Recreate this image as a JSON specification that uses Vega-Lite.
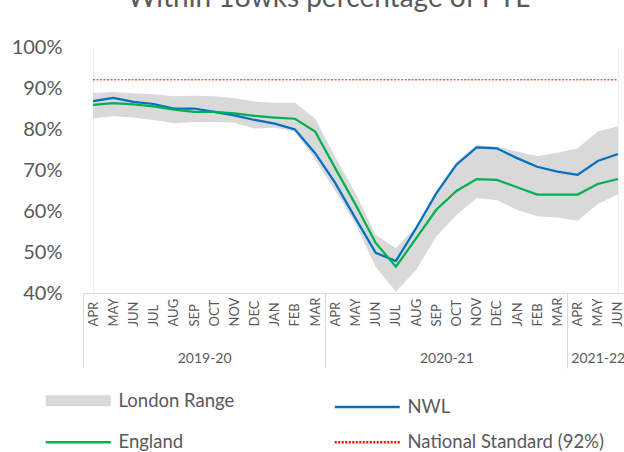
{
  "$schema": "https://vega.github.io/schema/vega-lite/v6.json",
  "width": 541,
  "height": 246,
  "autosize": {"type": "none"},
  "padding": {"left": 83, "top": 47, "right": 0, "bottom": 159},
  "background": "white",
  "config": {"font": "Lato", "view": {"stroke": null}},
  "title": {
    "text": "Within 18wks percentage of PTL",
    "frame": "group",
    "anchor": "middle",
    "offset": 12,
    "dy": 10,
    "baseline": "alphabetic",
    "dx": -25,
    "fontSize": 28,
    "fontWeight": "normal",
    "color": "#595959"
  },
  "datasets": {
    "months": [
      {"i": 0, "NWL": 0.868, "England": 0.859, "lo": 0.826, "hi": 0.888, "std": 0.92},
      {"i": 1, "NWL": 0.876, "England": 0.863, "lo": 0.831, "hi": 0.890, "std": 0.92},
      {"i": 2, "NWL": 0.866, "England": 0.860, "lo": 0.828, "hi": 0.887, "std": 0.92},
      {"i": 3, "NWL": 0.861, "England": 0.855, "lo": 0.822, "hi": 0.885, "std": 0.92},
      {"i": 4, "NWL": 0.850, "England": 0.847, "lo": 0.814, "hi": 0.880, "std": 0.92},
      {"i": 5, "NWL": 0.850, "England": 0.842, "lo": 0.817, "hi": 0.881, "std": 0.92},
      {"i": 6, "NWL": 0.842, "England": 0.842, "lo": 0.817, "hi": 0.880, "std": 0.92},
      {"i": 7, "NWL": 0.833, "England": 0.838, "lo": 0.815, "hi": 0.875, "std": 0.92},
      {"i": 8, "NWL": 0.822, "England": 0.832, "lo": 0.801, "hi": 0.867, "std": 0.92},
      {"i": 9, "NWL": 0.813, "England": 0.828, "lo": 0.803, "hi": 0.864, "std": 0.92},
      {"i": 10, "NWL": 0.799, "England": 0.825, "lo": 0.794, "hi": 0.864, "std": 0.92},
      {"i": 11, "NWL": 0.741, "England": 0.794, "lo": 0.726, "hi": 0.825, "std": 0.92},
      {"i": 12, "NWL": 0.668, "England": 0.704, "lo": 0.649, "hi": 0.731, "std": 0.92},
      {"i": 13, "NWL": 0.582, "England": 0.616, "lo": 0.568, "hi": 0.644, "std": 0.92},
      {"i": 14, "NWL": 0.498, "England": 0.522, "lo": 0.464, "hi": 0.542, "std": 0.92},
      {"i": 15, "NWL": 0.478, "England": 0.464, "lo": 0.403, "hi": 0.509, "std": 0.92},
      {"i": 16, "NWL": 0.558, "England": 0.533, "lo": 0.456, "hi": 0.562, "std": 0.92},
      {"i": 17, "NWL": 0.643, "England": 0.603, "lo": 0.538, "hi": 0.649, "std": 0.92},
      {"i": 18, "NWL": 0.713, "England": 0.649, "lo": 0.590, "hi": 0.721, "std": 0.92},
      {"i": 19, "NWL": 0.755, "England": 0.678, "lo": 0.631, "hi": 0.761, "std": 0.92},
      {"i": 20, "NWL": 0.753, "England": 0.676, "lo": 0.627, "hi": 0.757, "std": 0.92},
      {"i": 21, "NWL": 0.729, "England": 0.658, "lo": 0.603, "hi": 0.745, "std": 0.92},
      {"i": 22, "NWL": 0.708, "England": 0.640, "lo": 0.587, "hi": 0.734, "std": 0.92},
      {"i": 23, "NWL": 0.696, "England": 0.640, "lo": 0.584, "hi": 0.742, "std": 0.92},
      {"i": 24, "NWL": 0.688, "England": 0.640, "lo": 0.576, "hi": 0.753, "std": 0.92},
      {"i": 25, "NWL": 0.722, "England": 0.666, "lo": 0.617, "hi": 0.794, "std": 0.92},
      {"i": 26, "NWL": 0.739, "England": 0.678, "lo": 0.641, "hi": 0.807, "std": 0.92}
    ]
  },
  "resolve": {"axis": {"x": "independent"}},
  "layer": [
    {
      "data": {"name": "months"},
      "mark": {"type": "area", "opacity": 1},
      "encoding": {
        "x": {
          "field": "i", "type": "quantitative",
          "scale": {"domain": [-0.5, 26.3], "nice": false, "zero": false},
          "axis": {
            "orient": "bottom", "values": [5.5, 17.5, 25],
            "labelExpr": "datum.value < 10 ? '2019-20' : (datum.value < 20 ? '2020-21' : '2021-22')",
            "domain": false, "ticks": false, "grid": false, "title": null,
            "labelPadding": 58, "labelFontSize": 14, "labelColor": "#595959",
            "labelAlign": "center", "labelBaseline": "top", "labelFlush": false, "labelOverlap": false
          }
        },
        "y": {
          "field": "lo", "type": "quantitative",
          "scale": {"domain": [0.4, 1.0], "nice": false, "zero": false},
          "axis": {
            "values": [0.4, 0.5, 0.6, 0.7, 0.8, 0.9, 1.0], "format": ".0%",
            "domain": false, "ticks": false, "grid": false, "title": null,
            "labelPadding": 21, "labelFontSize": 20, "labelColor": "#595959"
          }
        },
        "y2": {"field": "hi"},
        "color": {
          "datum": "London Range", "type": "nominal",
          "scale": {
            "domain": ["London Range", "NWL", "England", "National Standard (92%)"],
            "range": ["#D9D9D9", "#0070C0", "#00B050", "#FF0000"]
          },
          "legend": {
            "title": null, "orient": "none", "legendX": -36, "legendY": 344,
            "direction": "horizontal", "columns": 2, "gridAlign": "each",
            "symbolType": "stroke", "symbolSize": 4225,
            "symbolOpacity": 1, "labelLimit": 400,
            "symbolOffset": 22,
            "labelFontSize": 18.5, "labelColor": "#595959", "labelOffset": 31,
            "rowPadding": 10, "columnPadding": 94,
            "encode": {
              "symbols": {
                "update": {
                  "stroke": {"signal": "scale('color', datum.value)"},
                  "fill": {"value": "transparent"},
                  "strokeWidth": {"signal": "datum.value === 'London Range' ? 11 : 2.5"},
                  "strokeDash": {"signal": "datum.value === 'National Standard (92%)' ? [2, 1.5] : []"}
                }
              }
            }
          }
        }
      }
    },
    {
      "data": {"name": "months"},
      "transform": [{"fold": ["NWL", "England"], "as": ["series", "value"]}],
      "mark": {"type": "line", "strokeWidth": 2.25},
      "encoding": {
        "x": {
          "field": "i", "type": "quantitative",
          "scale": {"domain": [-0.5, 26.3], "nice": false, "zero": false},
          "axis": {
            "orient": "bottom", "values": [0,1,2,3,4,5,6,7,8,9,10,11,12,13,14,15,16,17,18,19,20,21,22,23,24,25,26],
            "labelExpr": "['APR','MAY','JUN','JUL','AUG','SEP','OCT','NOV','DEC','JAN','FEB','MAR'][datum.value % 12]",
            "labelAngle": 270, "labelAlign": "left", "labelBaseline": "middle",
            "labelPadding": 33, "labelFontSize": 13, "labelColor": "#595959",
            "labelFlush": false, "labelOverlap": false,
            "domain": true, "domainColor": "#D9D9D9", "domainWidth": 1,
            "ticks": false, "title": null,
            "grid": true, "gridColor": "#EEEEEE",
            "gridOpacity": {"condition": {"test": "datum.value === 0 || datum.value === 26", "value": 1}, "value": 0}
          }
        },
        "y": {
          "field": "value", "type": "quantitative",
          "scale": {"domain": [0.4, 1.0], "nice": false, "zero": false},
          "axis": {
            "values": [0.4, 0.5, 0.6, 0.7, 0.8, 0.9, 1.0], "format": ".0%",
            "domain": false, "ticks": false, "grid": false, "title": null,
            "labelPadding": 21, "labelFontSize": 20, "labelColor": "#595959"
          }
        },
        "color": {"field": "series", "type": "nominal", "title": null}
      }
    },
    {
      "data": {"name": "months"},
      "mark": {"type": "line", "strokeWidth": 1, "strokeDash": [2, 1.5]},
      "encoding": {
        "x": {
          "field": "i", "type": "quantitative",
          "scale": {"domain": [-0.5, 26.3], "nice": false, "zero": false},
          "axis": {
            "orient": "bottom", "values": [-0.5, 11.5, 23.5, 26.5],
            "labels": false, "domain": false, "grid": false, "title": null,
            "ticks": true, "tickSize": 75, "tickColor": "#D9D9D9", "tickWidth": 1
          }
        },
        "y": {
          "field": "std", "type": "quantitative",
          "scale": {"domain": [0.4, 1.0], "nice": false, "zero": false},
          "axis": {
            "values": [0.4, 0.5, 0.6, 0.7, 0.8, 0.9, 1.0], "format": ".0%",
            "domain": false, "ticks": false, "grid": false, "title": null,
            "labelPadding": 21, "labelFontSize": 20, "labelColor": "#595959"
          }
        },
        "color": {"datum": "National Standard (92%)", "type": "nominal", "title": null}
      }
    }
  ]
}
